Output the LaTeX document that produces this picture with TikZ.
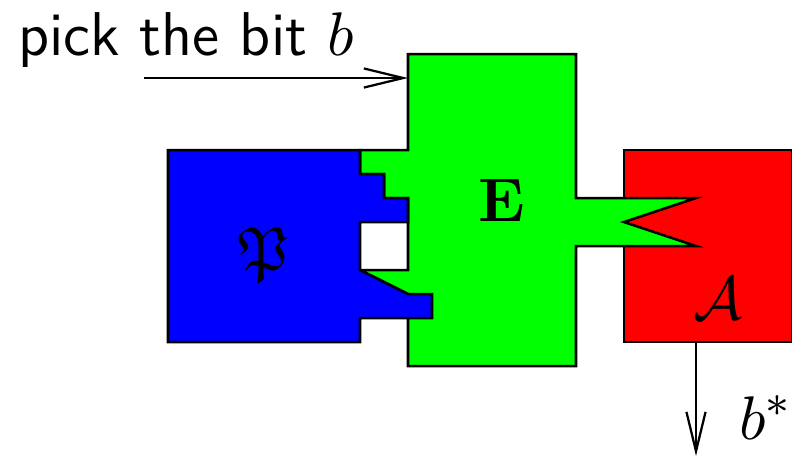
\documentclass[tikz,border=0pt]{standalone}
\usepackage{amssymb}
\usetikzlibrary{arrows.meta}

\begin{document}
\begin{tikzpicture}[x=0.15cm, y=0.15cm, line join=miter,
		every node/.style={font=\fontsize{11}{13}\selectfont},
		piece/.style={draw=black, line width=0.45pt},
		barb/.style={-{Straight Barb[length=7pt, width=3.4pt]}}]
		\useasboundingbox (0,0) rectangle (33,-19.17);

		% A
		\fill[red] (26,-6.25) rectangle (33,-14.25);
		\draw[piece] (26,-6.25) rectangle (33,-14.25);

		% E
		\draw[piece, fill=green] (17,-2.25) -- (24,-2.25) -- (24,-8.25) -- (29,-8.25) -- (26,-9.25)
			-- (29,-10.25) -- (24,-10.25) -- (24,-15.25) -- (17,-15.25) -- (17,-12.25)
			-- (15,-11.25) -- (17,-11.25) -- (17,-8.25) -- (16,-8.25) -- (16,-7.25)
			-- (15,-7.25) -- (15,-6.25) -- (17,-6.25) -- cycle;

		% P
		\draw[piece, fill=blue] (7,-6.25) -- (15,-6.25) -- (15,-7.25) -- (16,-7.25) -- (16,-8.25)
			-- (17,-8.25) -- (17,-9.25) -- (15,-9.25) -- (15,-11.25) -- (17,-12.25)
			-- (18,-12.25) -- (18,-13.25) -- (15,-13.25) -- (15,-14.25) -- (7,-14.25) -- cycle;

		\node (prover) at (11,-10.63) {$\mathfrak{P}$};
		\node (ext) at (20.92,-8.35) {$\mathbf{E}$};
		\node (adv) at (29.92,-12.42) {$\mathcal{A}$};

		\node (pick) at (7.75,-1.67) {\sffamily pick the bit $b$};
		\node (bstar) at (31.9,-17.4) {$b^*$};

		\coordinate (bitin) at (6,-3.25);
		\coordinate (eleft) at (17,-3.25);
		\coordinate (aout) at (29,-14.25);
		\coordinate (bitout) at (29,-19);

		\draw[barb] (bitin) -- (eleft);
		\draw[barb] (aout) -- (bitout);

	\end{tikzpicture}
\end{document}
